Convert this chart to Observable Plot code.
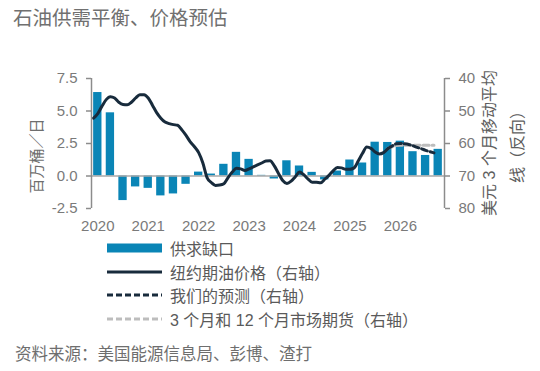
<!DOCTYPE html>
<html><head><meta charset="utf-8">
<script src="https://cdn.jsdelivr.net/npm/d3@7"></script>
<script src="https://cdn.jsdelivr.net/npm/@observablehq/plot@0.6"></script>
<style>
body{margin:0;background:#fff;font-family:"Liberation Sans","Noto Sans CJK SC",sans-serif;}
#wrap{position:relative;width:540px;height:371px;overflow:hidden;}
#chart{position:absolute;left:0;top:0;}
.t{position:absolute;white-space:nowrap;color:#6e6e6e;}
.rot{transform:translate(-50%,-50%) rotate(-90deg);text-align:center;}
#legend .row{position:absolute;left:107px;height:20px;display:flex;align-items:center;font-size:16px;color:#5a5a5a;}
#legend svg{margin-right:8px;}
</style></head>
<body><div id="wrap">
<div id="chart"></div>
<div class="t" id="title" style="left:13px;top:2px;font-size:19.5px;color:#707070;"></div>
<div class="t rot" id="ylab" style="left:35px;top:156px;font-size:15px;"></div>
<div class="t rot" id="ylab2" style="left:504px;top:143px;font-size:16px;line-height:28px;color:#5e5e5e;"></div>
<div id="legend"></div>
<div class="t" id="caption" style="left:15px;top:341px;font-size:16.5px;"></div>
</div>
<script>
const title = "石油供需平衡、价格预估";
const yLabel = "百万桶／日";
const y2Label = ["美元 3 个月移动平均", "线（反向）"];
const caption = "资料来源：美国能源信息局、彭博、渣打";
const years = [2020, 2021, 2022, 2023, 2024, 2025, 2026];
const leftTicks = [-2.5, 0, 2.5, 5, 7.5];
const rightTicks = [40, 50, 60, 70, 80];
const seriesNames = ["供求缺口", "纽约期油价格（右轴）", "我们的预测（右轴）", "3 个月和 12 个月市场期货（右轴）"];

// quarterly supply-demand gap, 2020Q1 .. 2026Q4 (mb/d)
const gap = [6.42, 4.86, -1.89, -0.84, -0.95, -1.53, -1.38, -0.64,
             0.30, 0.15, 0.90, 1.82, 1.28, 0.05, -0.23, 1.17,
             0.77, 0.28, -0.30, 0.38, 1.23, 1.00, 2.60, 2.58,
             2.68, 1.87, 1.58, 2.05];
// monthly NYMEX price 3m MA from Jan 2020 (USD, right axis, inverted)
const price = [52.2, 50.8, 48.5, 46.5, 45.6, 46.0, 47.3, 48.0, 48.1, 47.3, 46.0, 45.0,
               45.0, 46.0, 48.2, 50.5, 52.2, 53.4, 53.9, 54.2, 54.4, 55.8, 57.5, 59.5,
               61.0, 62.8, 66.0, 70.5, 72.0, 72.9, 72.8, 72.4, 70.5, 68.8, 67.6, 67.8,
               68.3, 67.8, 67.2, 66.6, 66.0, 65.4, 65.3, 66.9, 69.2, 71.4, 72.3, 71.6,
               70.2, 68.8, 69.6, 70.9, 71.9, 71.9, 72.1, 71.0, 69.8, 68.4, 67.4, 67.5,
               67.9, 67.9, 67.5, 65.3, 63.0, 61.1, 61.5, 62.6, 63.2, 62.8, 61.6];
// our forecast, monthly from month index 70
const forecastStart = 70;
const forecast = [61.6, 60.8, 60.1, 60.0, 60.1, 60.3, 60.7, 61.2, 61.6, 62.1, 62.5, 62.9];
// futures curve, monthly from month index 70
const futures = [61.6, 61.0, 60.6, 60.5, 60.5, 60.5, 60.5, 60.5, 60.5, 60.5, 60.5, 60.5];

const colors = {bar: "#0a85b6", line: "#182b3c", fut: "#bdbdbd", axis: "#8c8c8c", zero: "#a8a8a8"};

// right axis value -> left axis units (40 at 7.5, 80 at -2.5)
const toLeft = p => 7.5 - (p - 40) / 4;
const fromLeft = v => Math.round(40 + (7.5 - v) * 4);
const monthT = i => 2020 + (i + 0.5) / 12;

const barData = gap.map((v, i) => ({t: 2020 + (i + 0.5) / 4, v}));
const priceData = price.map((p, i) => ({t: monthT(i), y: toLeft(p)}));
const fcData = forecast.map((p, i) => ({t: monthT(forecastStart + i), y: toLeft(p)}));
const futData = futures.map((p, i) => ({t: monthT(forecastStart + i), y: toLeft(p)}));
const halfBar = 0.25 * 0.33;

const plot = Plot.plot({
  width: 540, height: 240,
  marginTop: 78, marginBottom: 32, marginLeft: 91, marginRight: 96,
  style: {fontFamily: '"Liberation Sans","Noto Sans CJK SC",sans-serif', fontSize: "15px", color: "#7a7a7a", background: "transparent"},
  x: {domain: [2020, 2027], axis: null},
  y: {domain: [-2.5, 7.5], axis: null},
  marks: [
    Plot.rectY(barData, {x1: d => d.t - halfBar, x2: d => d.t + halfBar, y1: 0, y2: "v", fill: colors.bar}),
    Plot.ruleY([0], {stroke: colors.zero, strokeWidth: 1.5}),
    Plot.line(futData, {x: "t", y: "y", stroke: colors.fut, strokeWidth: 3, strokeDasharray: "6,3", curve: "monotone-x"}),
    Plot.line(fcData, {x: "t", y: "y", stroke: colors.line, strokeWidth: 3, strokeDasharray: "6,3", curve: "monotone-x"}),
    Plot.line(priceData, {x: "t", y: "y", stroke: colors.line, strokeWidth: 3, curve: "monotone-x"}),
    Plot.ruleX([2020], {y1: -2.5, y2: 7.5, stroke: colors.axis, strokeWidth: 1.5}),
    Plot.ruleX([2027], {y1: -2.5, y2: 7.5, stroke: colors.axis, strokeWidth: 1.5}),
    Plot.axisY({anchor: "left", ticks: leftTicks, tickFormat: d => d.toFixed(1), tickSize: 5, tickPadding: 9, label: null, stroke: colors.axis, strokeWidth: 1.5}),
    Plot.axisY({anchor: "right", ticks: rightTicks.map(toLeft), tickFormat: d => String(fromLeft(d)), tickSize: 5, tickPadding: 9, label: null, stroke: colors.axis, strokeWidth: 1.5}),
    Plot.axisX({ticks: years.map(y => y + 0.125), tickFormat: d => String(Math.floor(d)), tickSize: 0, tickPadding: 12, label: null})
  ]
});
document.getElementById("chart").appendChild(plot);

document.getElementById("title").textContent = title;
document.getElementById("ylab").textContent = yLabel;
document.getElementById("ylab2").innerHTML = y2Label.join("<br>");
document.getElementById("caption").textContent = caption;

const legend = document.getElementById("legend");
const rowsY = [238, 262, 285, 309];
const swatches = [
  `<rect x="0" y="5.5" width="55" height="9" fill="${colors.bar}"/>`,
  `<line x1="0" x2="55" y1="10" y2="10" stroke="${colors.line}" stroke-width="3"/>`,
  `<line x1="0" x2="55" y1="10" y2="10" stroke="${colors.line}" stroke-width="3" stroke-dasharray="6,3"/>`,
  `<line x1="0" x2="55" y1="10" y2="10" stroke="${colors.fut}" stroke-width="3" stroke-dasharray="6,3"/>`
];
seriesNames.forEach((name, i) => {
  const row = document.createElement("div");
  row.className = "row";
  row.style.top = rowsY[i] + "px";
  row.innerHTML = `<svg width="55" height="20">${swatches[i]}</svg><span></span>`;
  row.querySelector("span").textContent = name;
  legend.appendChild(row);
});
</script>
</body></html>
